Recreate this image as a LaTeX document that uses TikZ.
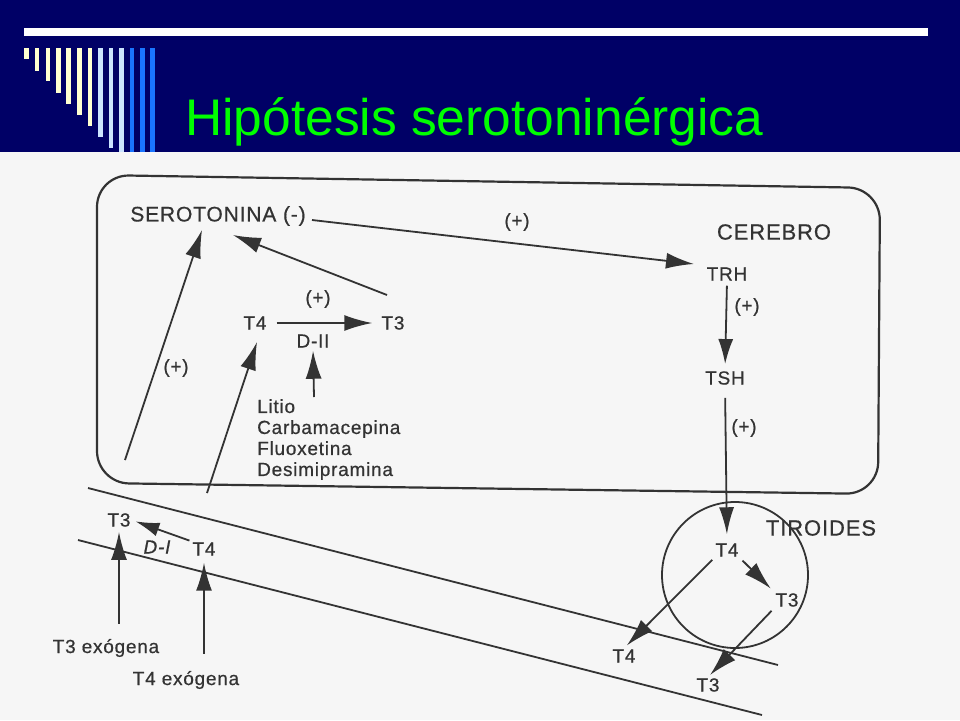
\documentclass[tikz,border=0pt]{standalone}
\usepackage{fontspec}
\setmainfont{Liberation Sans}
\newfontfamily\scanfont[FakeBold=0.6,LetterSpace=4]{Liberation Sans}
\usetikzlibrary{arrows.meta}
\definecolor{navy}{HTML}{000066}
\definecolor{titlegreen}{HTML}{00FF00}
\definecolor{barylw}{HTML}{FFFFD0}
\definecolor{barlblue}{HTML}{CCE4FF}
\definecolor{barblue}{HTML}{1A75FF}
\definecolor{paper}{HTML}{F6F6F6}
\definecolor{ink}{HTML}{333333}
\tikzset{
  lbl/.style={inner sep=1pt, text=ink, font=\scanfont\fontsize{19}{21}\selectfont},
  biglbl/.style={inner sep=1pt, text=ink, font=\scanfont\fontsize{22}{26}\selectfont},
  conn/.style={draw=ink, line width=1.8pt},
  arr/.style={conn, -{Latex[length=28pt,width=16pt]}},
  bar/.style={draw=none}
}
\begin{document}
\begin{tikzpicture}[x=1pt,y=-1pt]
\useasboundingbox (0,0) rectangle (960,720);
% background
\fill[paper] (0,152) rectangle (960,720);
\fill[navy] (0,0) rectangle (960,152);
\fill[white] (24,28) rectangle (928,36);
% decorative bars
\foreach \xa/\xb/\yb in {24/29/59, 35/39/71, 46/50/81, 56/61/93, 66/71/104, 77/82/115, 88/92/126}
  \fill[barylw] (\xa,48) rectangle (\xb,\yb);
\foreach \xa/\xb/\yb in {98/103/137, 109/113/148, 119/124/152}
  \fill[barlblue] (\xa,48) rectangle (\xb,\yb);
\foreach \xa/\xb/\yb in {130/134/152, 140/145/152, 150/155/152}
  \fill[barblue] (\xa,48) rectangle (\xb,\yb);
\node[anchor=base west, inner sep=0, text=titlegreen, font=\fontsize{51.5}{56}\selectfont] (title) at (185,135) {Hipótesis serotoninérgica};

% brain box
\draw[conn, line width=2.2pt, rounded corners=32] (97,175) -- (880,188) -- (878,494) -- (97,483) -- cycle;

% membranes
\coordinate (m1a) at (88,488);
\coordinate (m1b) at (778,665);
\coordinate (m2a) at (78,540);
\coordinate (m2b) at (762,715);
\draw[conn] (m1a) -- (m1b);
\draw[conn] (m2a) -- (m2b);

% thyroid
\draw[conn] (735,575) circle (73);

% text nodes
\node[lbl, font=\scanfont\fontsize{21}{24}\selectfont] (sero) at (218,216) {SEROTONINA (-)};
\node[biglbl] (cerebro) at (774,232) {CEREBRO};
\node[lbl] (trh) at (727,274) {TRH};
\node[lbl] (tsh) at (725,378) {TSH};
\node[lbl] (t4c) at (255,323) {T4};
\node[lbl] (t3c) at (393,323) {T3};
\node[lbl] (d2) at (313,341) {D-II};
\node[lbl, anchor=north west, align=left] (drugs) at (256,398) {Litio\\Carbamacepina\\Fluoxetina\\Desimipramina};
\node[biglbl] (tiroides) at (821,528) {TIROIDES};
\node[lbl] (tt4) at (727,550) {T4};
\node[lbl] (tt3) at (787,600) {T3};
\node[lbl] (bt4) at (624,656) {T4};
\node[lbl] (bt3) at (708,685) {T3};
\node[lbl] (pt3) at (119,520) {T3};
\node[lbl] (pt4) at (204,549) {T4};
\node[lbl, font=\scanfont\fontsize{19}{21}\selectfont\itshape] (d1) at (157,547) {D-I};
\node[lbl] (ex3) at (106,648) {T3 exógena};
\node[lbl] (ex4) at (186,680) {T4 exógena};

% plus labels
\node[lbl] (p1) at (517,222) {(+)};
\node[lbl] (p2) at (176,368) {(+)};
\node[lbl] (p3) at (318,299) {(+)};
\node[lbl] (p4) at (747,307) {(+)};
\node[lbl] (p5) at (744,428) {(+)};

% free ends
\coordinate (seroout) at (312,220);
\coordinate (trhin) at (694,264);
\coordinate (bl) at (125,460);
\coordinate (serotipA) at (202,230);
\coordinate (t3out) at (387,295);
\coordinate (serotipB) at (233,235);
\coordinate (membt4) at (207,493);
\coordinate (t4tip) at (257,342);
\coordinate (drg) at (314,397);

% connectors brain
\draw[arr] (seroout) -- (trhin);
\draw[arr] (bl) -- (serotipA);
\draw[arr] (t3out) -- (serotipB);
\draw[arr, shorten <=9pt, shorten >=8pt] (t4c.east) -- (t3c.west);
\draw[arr, shorten >=2pt] (drg) -- (d2.south);
\draw[arr] (membt4) -- (t4tip);
\draw[arr, -{Latex[length=25pt,width=15pt]}, shorten <=4pt, shorten >=6pt] (trh.south) -- (tsh.north);
\draw[conn, -{Latex[length=27pt,width=15pt]}, shorten <=12pt, shorten >=8pt] (tsh.south) -- (tt4.north);

% thyroid arrows
\draw[arr, shorten <=4pt, shorten >=5pt] (tt4.south east) -- (tt3.north west);
\draw[arr, shorten <=3pt, shorten >=4pt] (tt4.south west) -- (bt4.north);
\draw[arr, shorten <=4pt, shorten >=3pt] (tt3.south west) -- (bt3.north);

% periphery arrows
\draw[arr, -{Latex[length=24pt,width=14pt]}, shorten <=2pt, shorten >=4pt] (pt4.north west) -- (pt3.east);
\draw[arr, shorten <=14pt, shorten >=4pt] (ex3.north -| pt3) -- (pt3.south);
\draw[arr, shorten <=16pt, shorten >=6pt] (ex4.north -| pt4) -- (pt4.south);
\end{tikzpicture}
\end{document}
